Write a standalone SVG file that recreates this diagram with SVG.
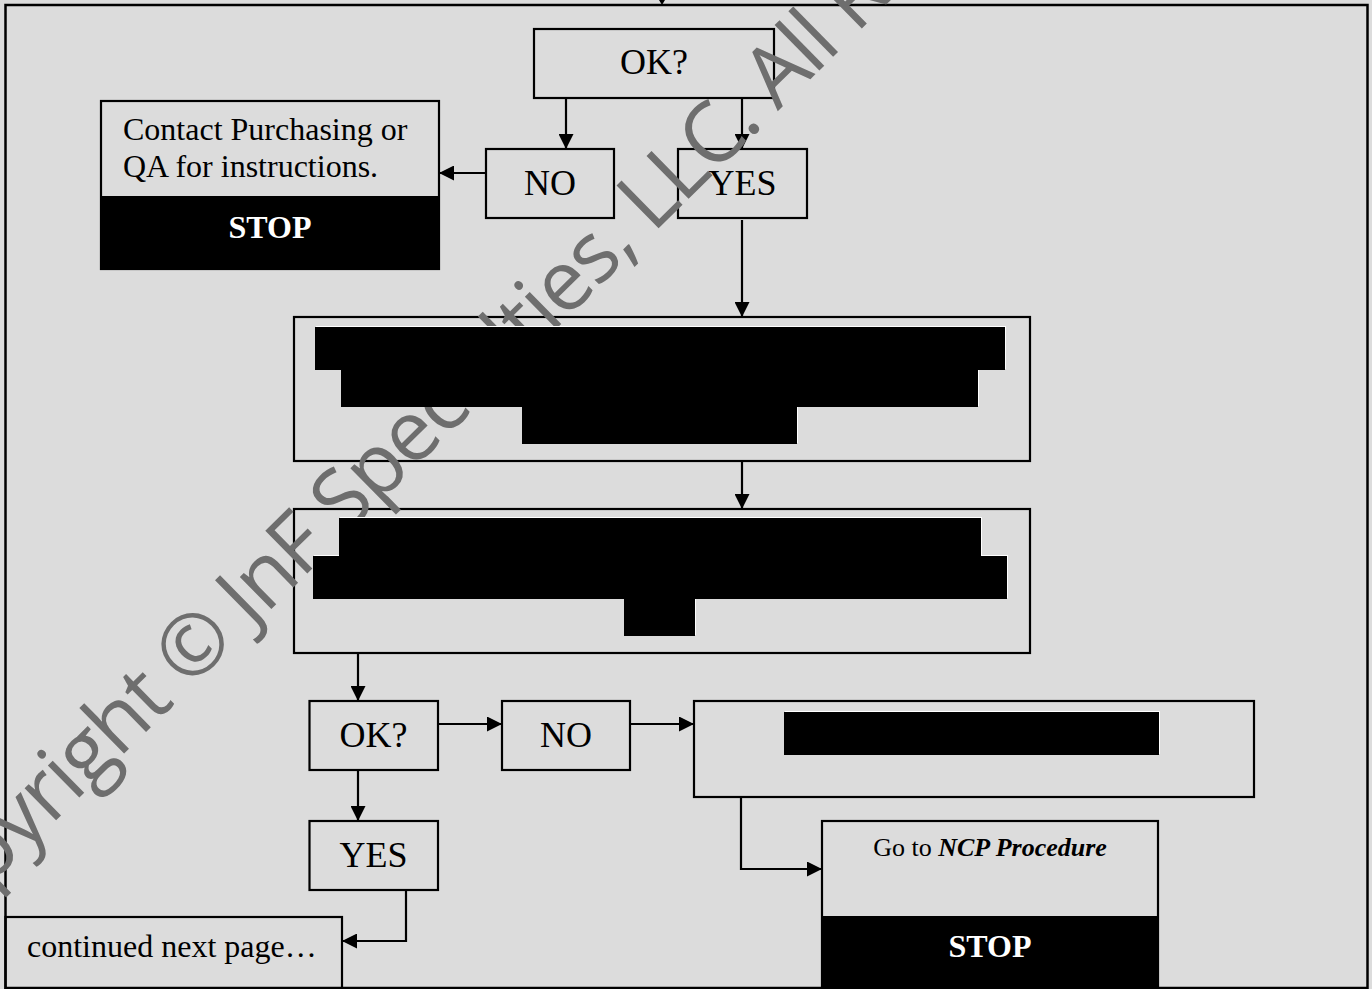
<svg xmlns="http://www.w3.org/2000/svg" width="1372" height="989" viewBox="0 0 1372 989">
<defs>
<style>
.bx{fill:none;stroke:#000;stroke-width:2.2}
.lbl{font-family:"Liberation Serif","Times New Roman",serif;font-size:36px;fill:#000;text-anchor:middle}
.txt{font-family:"Liberation Serif","Times New Roman",serif;font-size:32px;fill:#000}
.stop{font-family:"Liberation Serif","Times New Roman",serif;font-size:32px;font-weight:bold;fill:#fff;text-anchor:middle}
.red{fill:#000}
.hl{fill:#fff}
.cn{fill:none;stroke:#000;stroke-width:2.2}
.wm{font-family:"Open Sans","Noto Sans",sans-serif;font-size:84px;letter-spacing:-1.9px;fill:#6e6e6e}
</style>
<marker id="ah" viewBox="0 0 15 15" refX="15" refY="7.5" markerWidth="15" markerHeight="15" markerUnits="userSpaceOnUse" orient="auto">
<path d="M0,0 L15,7.5 L0,15 z" fill="#000"/>
</marker>
</defs>
<rect x="0" y="0" width="1372" height="989" fill="#dcdcdc"/>
<rect x="5.5" y="5" width="1362" height="983" fill="none" stroke="#000" stroke-width="2.5"/>

<g id="node-ok1">
<rect class="bx" x="534" y="29" width="240" height="69"/>
<text class="lbl" x="654" y="74">OK?</text>
</g>
<g id="node-no1">
<rect class="bx" x="486" y="149" width="128" height="69"/>
<text class="lbl" x="550" y="195">NO</text>
</g>
<g id="node-yes1">
<rect class="bx" x="678" y="149" width="129" height="69"/>
<text class="lbl" x="742.5" y="195">YES</text>
</g>
<g id="node-contact">
<rect x="101" y="196" width="338" height="73" fill="#000"/>
<rect class="bx" x="101" y="101" width="338" height="168"/>
<text class="txt" x="123" y="140">Contact Purchasing or</text>
<text class="txt" x="123" y="177">QA for instructions.</text>
<text class="stop" x="270" y="238">STOP</text>
</g>
<g id="node-step1">
<rect class="bx" x="294" y="317" width="736" height="144"/>
</g>
<g id="node-step2">
<rect class="bx" x="294" y="509" width="736" height="144"/>
</g>
<g id="node-ok2">
<rect class="bx" x="309.5" y="701" width="128.5" height="69"/>
<text class="lbl" x="373.5" y="747">OK?</text>
</g>
<g id="node-no2">
<rect class="bx" x="502" y="701" width="128" height="69"/>
<text class="lbl" x="566" y="747">NO</text>
</g>
<g id="node-yes2">
<rect class="bx" x="309.5" y="821" width="128.5" height="69"/>
<text class="lbl" x="373.5" y="867">YES</text>
</g>
<g id="node-right">
<rect class="bx" x="694" y="701" width="560" height="96"/>
</g>
<g id="node-continued">
<rect class="bx" x="5.5" y="917" width="336.5" height="75"/>
<text class="txt" x="27" y="957">continued next page…</text>
</g>

<g id="connectors">
<path d="M659,0 L665,0 L662,5 z" fill="#000"/>
<path class="cn" d="M566,99 L566,149" marker-end="url(#ah)"/>
<path class="cn" d="M742,99 L742,149" marker-end="url(#ah)"/>
<path class="cn" d="M486,173 L439,173" marker-end="url(#ah)"/>
<path class="cn" d="M742,220 L742,317" marker-end="url(#ah)"/>
<path class="cn" d="M742,462 L742,509" marker-end="url(#ah)"/>
<path class="cn" d="M358,654 L358,701" marker-end="url(#ah)"/>
<path class="cn" d="M438,724 L502,724" marker-end="url(#ah)"/>
<path class="cn" d="M630,724 L694,724" marker-end="url(#ah)"/>
<path class="cn" d="M358,771 L358,821" marker-end="url(#ah)"/>
<path class="cn" d="M741,798 L741,869 L822,869" marker-end="url(#ah)"/>
<path class="cn" d="M406,891 L406,941 L342,941" marker-end="url(#ah)"/>
</g>

<text class="wm" transform="translate(-84,958) rotate(-44.5)">Copyright © JnF Specialties, LLC. All Rights Reserved</text>

<g id="redactions">
<rect class="hl" x="316" y="326" width="690" height="43"/>
<rect class="hl" x="342" y="369" width="637" height="37"/>
<rect class="hl" x="523" y="406" width="275" height="37"/>
<rect class="red" x="315" y="327" width="690" height="43"/>
<rect class="red" x="341" y="370" width="637" height="37"/>
<rect class="red" x="522" y="407" width="275" height="37"/>
<rect class="hl" x="340" y="517" width="642" height="38"/>
<rect class="hl" x="314" y="555" width="694" height="43"/>
<rect class="hl" x="625" y="598" width="71" height="37"/>
<rect class="red" x="339" y="518" width="642" height="38"/>
<rect class="red" x="313" y="556" width="694" height="43"/>
<rect class="red" x="624" y="599" width="71" height="37"/>
<rect class="hl" x="785" y="711" width="375" height="43"/>
<rect class="red" x="784" y="712" width="375" height="43"/>
</g>

<g id="node-ncp">
<rect x="822" y="916" width="336" height="73" fill="#000"/>
<rect class="bx" x="822" y="821" width="336" height="170"/>
<text x="990" y="856" text-anchor="middle" font-family="Liberation Serif, Times New Roman, serif" font-size="26" fill="#000">Go to <tspan font-weight="bold" font-style="italic">NCP Procedure</tspan></text>
<text class="stop" x="990" y="957">STOP</text>
</g>
</svg>
